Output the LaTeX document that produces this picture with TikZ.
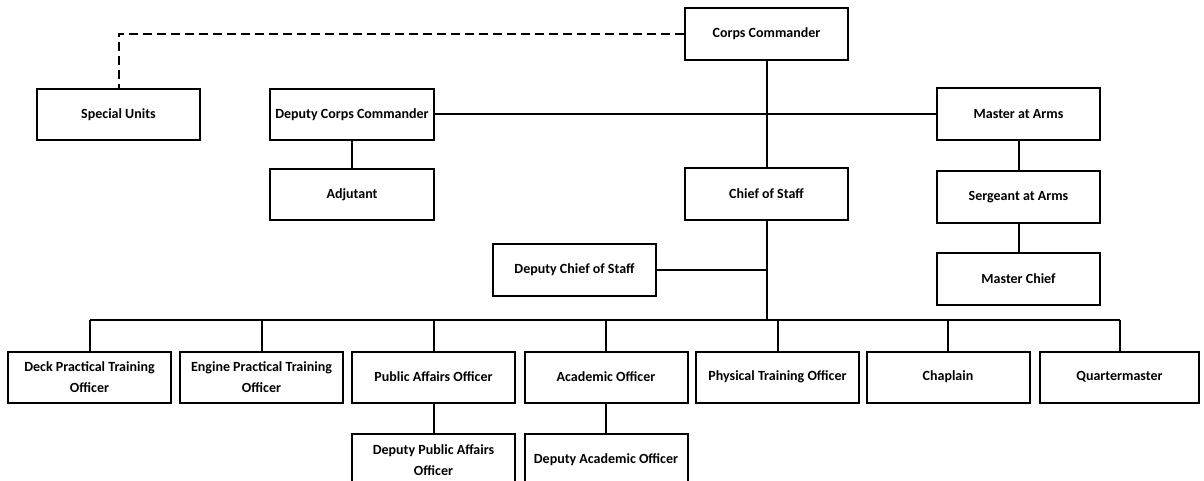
\documentclass[tikz,border=0pt]{standalone}
\usepackage{fontspec}
\setmainfont{Carlito}
\begin{document}
\begin{tikzpicture}[x=1pt,y=-1pt,
  box/.style={draw,line width=2pt,minimum width=163pt,minimum height=52pt,inner sep=2pt,align=center,font=\bfseries\fontsize{14}{21}\selectfont},
  conn/.style={line width=2pt},
  dashconn/.style={line width=2pt,dash pattern=on 9pt off 5pt}]
\useasboundingbox (0,0) rectangle (1204,481);
\node[box] (cc) at (766.5,34) {Corps Commander};
\node[box,minimum height=51pt] (su) at (118.5,114.5) {Special Units};
\node[box,minimum width=164pt,minimum height=51pt] (dcc) at (352,114.5) {Deputy Corps Commander};
\node[box] (maa) at (1018.5,114.5) {Master at Arms};
\node[box,minimum width=164pt,minimum height=51pt] (adj) at (352,194.5) {Adjutant};
\node[box] (cos) at (766.5,194) {Chief of Staff};
\node[box] (saa) at (1018.5,197) {Sergeant at Arms};
\node[box] (mc) at (1018.5,279) {Master Chief};
\node[box] (dcos) at (574.5,270) {Deputy Chief of Staff};
\node[box,minimum height=51pt] (deck) at (89.5,377) {Deck Practical Training\\Officer};
\node[box,minimum height=51pt] (eng) at (261.5,377) {Engine Practical Training\\Officer};
\node[box,minimum height=51pt] (pa) at (433.5,377) {Public Affairs Officer};
\node[box,minimum height=51pt] (acad) at (606,377) {Academic Officer};
\node[box,minimum height=51pt] (phys) at (777.5,377) {Physical Training Officer};
\node[box,minimum height=51pt] (chap) at (948,377) {Chaplain};
\node[box,minimum width=159pt,minimum height=51pt] (qm) at (1119.5,377) {Quartermaster};
\node[box] (dpa) at (433.5,460) {Deputy Public Affairs\\Officer};
\node[box] (dacad) at (606,460) {Deputy Academic Officer};
\coordinate (bus) at (766.5,320);
\draw[dashconn] (cc.west) -| (su.north);
\draw[conn] (dcc.east) -- (maa.west);
\draw[conn] (cc.south) -- (cos.north);
\draw[conn] (dcc.south) -- (adj.north);
\draw[conn] (maa.south) -- (saa.north);
\draw[conn] (saa.south) -- (mc.north);
\draw[conn] (cos.south) -- (bus);
\draw[conn] (dcos.east) -- (dcos.east -| bus);
\draw[conn] (bus -| deck.north) -- (bus -| qm.north);
\foreach \n in {deck,eng,pa,acad,phys,chap,qm}{
  \draw[conn] (bus -| \n.north) -- (\n.north);
}
\draw[conn] (pa.south) -- (dpa.north);
\draw[conn] (acad.south) -- (dacad.north);
\end{tikzpicture}
\end{document}
